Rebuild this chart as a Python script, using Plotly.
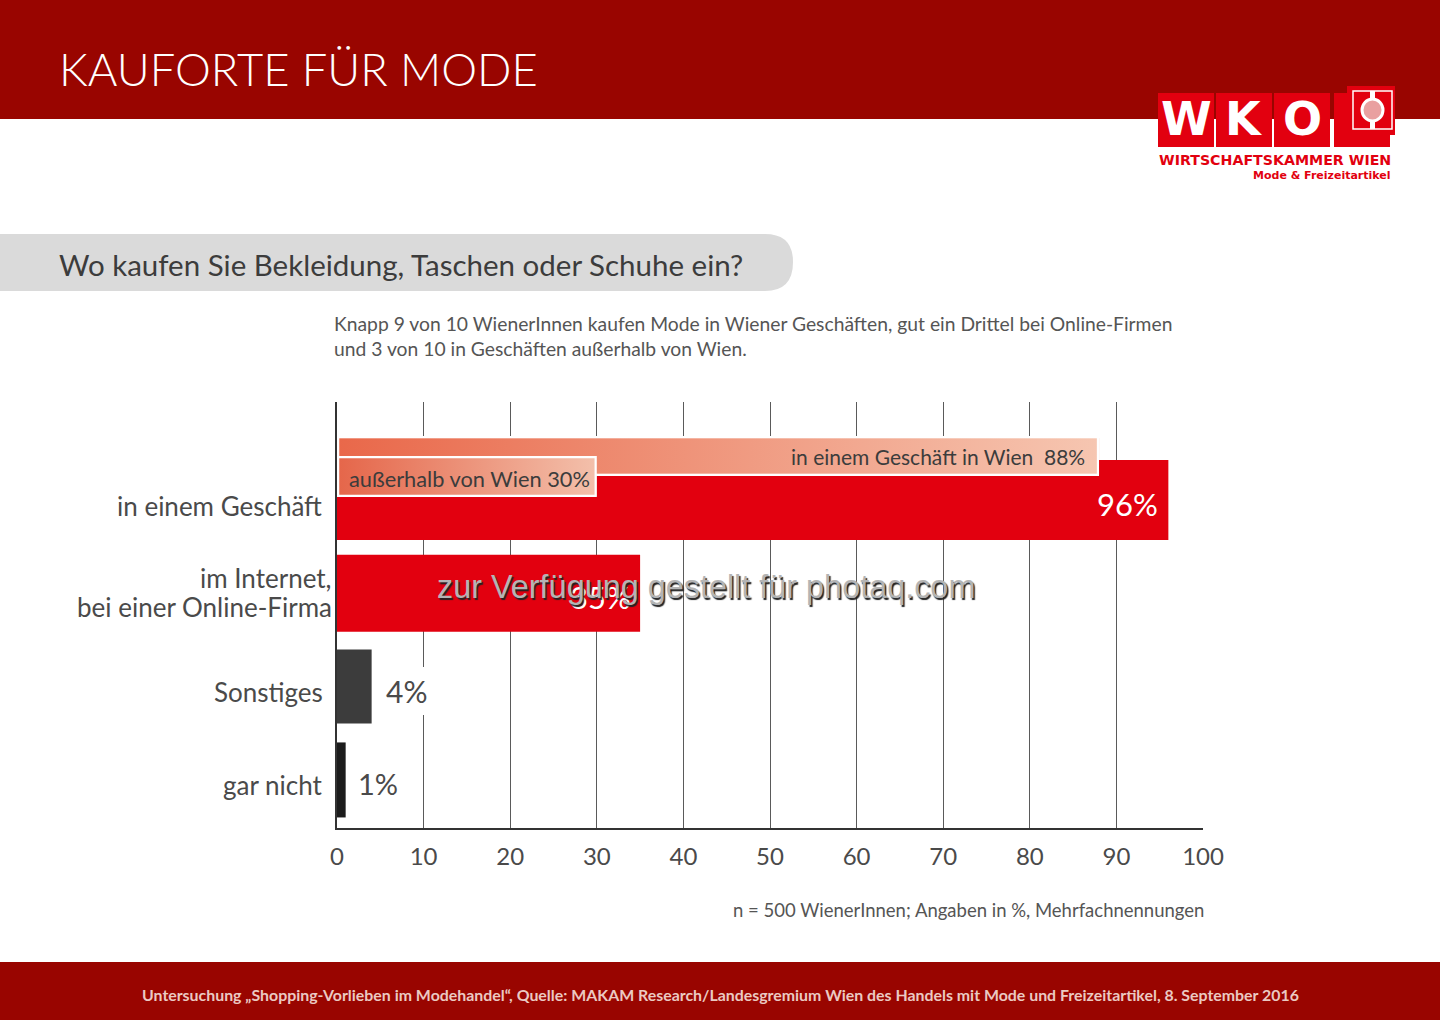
import base64
import plotly.graph_objects as go

# chart data
categories = ["in einem Geschäft", "im Internet,<br>bei einer Online-Firma", "Sonstiges", "gar nicht"]
values = [96, 35, 4, 1]
bar_colors = ["#E2000F", "#E2000F", "#3C3C3C", "#1C1C1C"]
sub_labels = ["in einem Geschäft in Wien&nbsp;&nbsp;88%", "außerhalb von Wien 30%"]
sub_values = [88, 30]
x_ticks = [0, 10, 20, 30, 40, 50, 60, 70, 80, 90, 100]

DARK_RED = "#990500"
RED = "#E2000F"
TEXT = "#4A4A4A"
FONT = "Lato"

# plot area in page pixels
L, R, T, B = 337, 1203, 402, 828


def px(x):
    return (x - L) / (R - L)


def py(y):
    return (B - y) / (B - T)


def rect(x0, y0, x1, y1, color, line=None):
    return dict(type="rect", xref="paper", yref="paper", x0=px(x0), x1=px(x1), y0=py(y0), y1=py(y1),
                fillcolor=color, line=dict(width=line[1], color=line[0]) if line else dict(width=0), layer="below")


def note(text, x, y, size, color=TEXT, anchor="left", family=FONT, pad=0, **kw):
    return dict(text=text, xref="paper", yref="paper", x=px(x), y=py(y), xanchor=anchor, yanchor="middle",
                showarrow=False, borderpad=pad, borderwidth=0,
                font=dict(size=size, color=color, family=family), **kw)


def gradient(w, h, c0, c1):
    # svg box with a white edge, the bars cannot carry a gradient themselves
    svg = (f'<svg xmlns="http://www.w3.org/2000/svg" width="{w}" height="{h}">'
           f'<defs><linearGradient id="g"><stop offset="0" stop-color="{c0}"/><stop offset="1" stop-color="{c1}"/>'
           f'</linearGradient></defs><rect x="1" y="1" width="{w - 2}" height="{h - 2}" fill="url(#g)" '
           f'stroke="#ffffff" stroke-width="2.5"/></svg>')
    return "data:image/svg+xml;base64," + base64.b64encode(svg.encode()).decode()


fig = go.Figure()
fig.add_trace(go.Bar(
    y=categories, x=values, orientation="h",
    width=[0.857, 0.825, 0.793, 0.804],
    marker=dict(color=bar_colors, line=dict(width=0)),
    hoverinfo="skip",
))
# the two boxes that lie over the top bar
fig.add_trace(go.Bar(y=[categories[0]], x=[sub_values[0]], orientation="h", width=[0.40], offset=[-0.664],
                     marker=dict(color="#F0987C", line=dict(width=0)), hoverinfo="skip"))
fig.add_trace(go.Bar(y=[categories[0]], x=[sub_values[1]], orientation="h", width=[0.41], offset=[-0.45],
                     marker=dict(color="#EE9478", line=dict(width=0)), hoverinfo="skip"))

shapes = [
    rect(0, 0, 1440, 119, DARK_RED),
    rect(0, 962, 1440, 1020, DARK_RED),
    # grey band of the question
    dict(type="path", xref="paper", yref="paper", fillcolor="#DADADA", line=dict(width=0), layer="below",
         path=f"M {px(0)} {py(234)} L {px(765)} {py(234)} Q {px(793)} {py(234)} {px(793)} {py(262)} "
              f"Q {px(793)} {py(291)} {px(765)} {py(291)} L {px(0)} {py(291)} Z"),
    # logo
    rect(1158, 93, 1214, 147, RED),
    rect(1216, 93, 1272, 147, RED),
    rect(1274, 93, 1330, 147, RED),
    rect(1334, 93, 1390, 147, RED),
    rect(1347, 86, 1395, 135, RED),
    rect(1353, 91, 1392, 129, "rgba(0,0,0,0)", ("#FFFFFF", 1.5)),
    dict(type="circle", xref="paper", yref="paper", x0=px(1362), x1=px(1383), y0=py(99), y1=py(121),
         fillcolor="#E9A0A0", line=dict(color="#FFFFFF", width=3), layer="below"),
    rect(1370, 91, 1375, 99, "#FFFFFF"),
    rect(1370, 121, 1375, 129, "#FFFFFF"),
]

images = [
    dict(source=gradient(763, 39, "#E9684A", "#F6C6B1"), xref="x", yref="paper", x=0, y=py(436), sizex=sub_values[0],
         sizey=py(436) - py(476), xanchor="left", yanchor="top", sizing="stretch", layer="above"),
    dict(source=gradient(260, 41, "#E5664A", "#F3C0AB"), xref="x", yref="paper", x=0, y=py(456), sizex=sub_values[1],
         sizey=py(456) - py(497), xanchor="left", yanchor="top", sizing="stretch", layer="above"),
]

label_lines = categories[1].split("<br>")

annotations = [
    note("KAUFORTE FÜR MODE", 59, 68, 45.3, "#FFFFFF", family="Lato Light"),
    note("Wo kaufen Sie Bekleidung, Taschen oder Schuhe ein?", 59, 264, 29.5, "#3C3C3C"),
    note("Knapp 9 von 10 WienerInnen kaufen Mode in Wiener Geschäften, gut ein Drittel bei Online-Firmen", 334, 323, 19.3, "#555555"),
    note("und 3 von 10 in Geschäften außerhalb von Wien.", 334, 348, 19.3, "#555555"),
    note("n = 500 WienerInnen; Angaben in %, Mehrfachnennungen", 1204, 910, 18.5, "#555555", anchor="right"),
    note("<b>Untersuchung „Shopping-Vorlieben im Modehandel“, Quelle: MAKAM Research/Landesgremium Wien des Handels mit Mode und Freizeitartikel, 8. September 2016</b>",
         720, 994, 15.9, "#EBC9C2", anchor="center"),
    # category labels
    note(categories[0], 322, 506, 26, anchor="right"),
    note(label_lines[0], 332, 578, 26, anchor="right"),
    note(label_lines[1], 332, 607, 26, anchor="right"),
    note(categories[2], 323, 692, 26, anchor="right"),
    note(categories[3], 323, 785, 26, anchor="right"),
    # value labels
    note(f"{values[0]}%", 1158, 504, 31, "#FFFFFF", anchor="right"),
    note(f"{values[1]}%", 631, 597, 31, "#FFFFFF", anchor="right"),
    note(f"{values[2]}%", 380, 691, 30, anchor="left", bgcolor="#FFFFFF", pad=6),
    note(f"{values[3]}%", 358, 783, 29, anchor="left"),
    note(sub_labels[0], 1085, 456, 21, "#3C3C3C", anchor="right"),
    note(sub_labels[1], 349, 478, 21.8, "#3C3C3C"),
    # logo text
    note("<b>W</b>", 1186, 119, 46, "#FFFFFF", anchor="center", family="DejaVu Sans"),
    note("<b>K</b>", 1244, 119, 46, "#FFFFFF", anchor="center", family="DejaVu Sans"),
    note("<b>O</b>", 1302, 119, 46, "#FFFFFF", anchor="center", family="DejaVu Sans"),
    note("<b>WIRTSCHAFTSKAMMER WIEN</b>", 1275, 160, 14.2, RED, anchor="center", family="DejaVu Sans"),
    note("<b>Mode &amp; Freizeitartikel</b>", 1391, 175.5, 11, RED, anchor="right", family="DejaVu Sans"),
    # watermark
    note("zur Verfügung gestellt für photaq.com", 437, 587, 32.4, "#B4B4B4", family="Liberation Sans"),
]
annotations[-1]["font"]["shadow"] = "1.5px 1.5px 1px #222222"

fig.update_layout(
    width=1440, height=1020,
    margin=dict(l=L, r=1440 - R, t=T, b=1020 - B, pad=0),
    paper_bgcolor="#FFFFFF", plot_bgcolor="#FFFFFF",
    barmode="overlay", showlegend=False,
    font=dict(family=FONT, color=TEXT),
    shapes=shapes, images=images, annotations=annotations,
    xaxis=dict(range=[0, 100], tickmode="array", tickvals=x_ticks, showgrid=True, gridcolor="#5A5A5A", gridwidth=1.3,
               zeroline=False, showline=True, linecolor="#333333", linewidth=2, ticks="",
               tickfont=dict(size=24, color=TEXT), ticklabelstandoff=6),
    yaxis=dict(type="category", categoryorder="array", categoryarray=categories, range=[3.515, -1.05],
               showticklabels=False, showgrid=False, zeroline=False, showline=True, linecolor="#333333", linewidth=2,
               ticks=""),
)

fig.write_html("out.html", post_script="document.body.style.margin='0';", config=dict(displayModeBar=False))
